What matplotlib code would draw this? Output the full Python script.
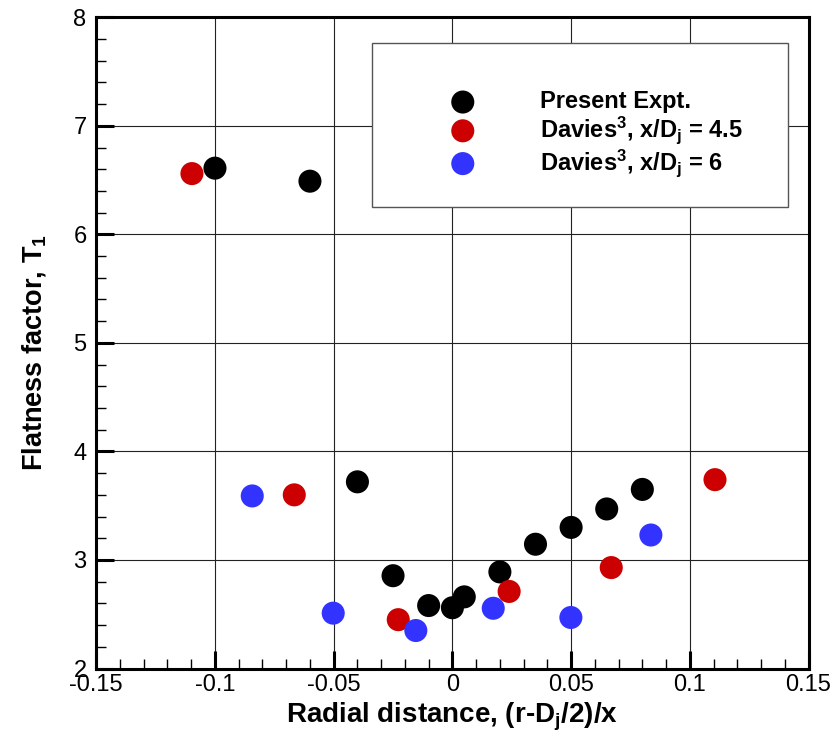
import matplotlib
matplotlib.use("Agg")
import matplotlib.pyplot as plt
from matplotlib.patches import Rectangle
from matplotlib.ticker import MultipleLocator, FixedLocator

plt.rcParams['font.family'] = ['Liberation Sans', 'DejaVu Sans']
plt.rcParams['axes.unicode_minus'] = False
plt.rcParams['mathtext.fontset'] = 'custom'
plt.rcParams['mathtext.rm'] = 'Liberation Sans:bold'
plt.rcParams['mathtext.it'] = 'Liberation Sans:bold'
plt.rcParams['mathtext.bf'] = 'Liberation Sans:bold'
plt.rcParams['mathtext.default'] = 'rm'

# ---- data ----
present_x = [-0.10, -0.06, -0.04, -0.025, -0.01, 0.0, 0.005, 0.02, 0.035, 0.05, 0.065, 0.08]
present_y = [6.61, 6.49, 3.72, 2.855, 2.58, 2.56, 2.66, 2.89, 3.145, 3.30, 3.47, 3.65]

davies45_x = [-0.1097, -0.0666, -0.0228, 0.0239, 0.0669, 0.1106]
davies45_y = [6.56, 3.60, 2.45, 2.71, 2.93, 3.74]

davies6_x = [-0.0843, -0.0502, -0.0154, 0.0172, 0.0499, 0.0836]
davies6_y = [3.59, 2.51, 2.35, 2.555, 2.47, 3.23]

series_labels = ["Present Expt.",
                 r"Davies$^3$, x/$\mathrm{D}_j$ = 4.5",
                 r"Davies$^3$, x/$\mathrm{D}_j$ = 6"]
series_colors = ["#000000", "#cc0000", "#3333ff"]

xticks = [-0.15, -0.1, -0.05, 0, 0.05, 0.1, 0.15]
xtick_labels = ["-0.15", "-0.1", "-0.05", "0", "0.05", "0.1", "0.15"]
yticks = [2, 3, 4, 5, 6, 7, 8]
ytick_labels = ["2", "3", "4", "5", "6", "7", "8"]

# ---- figure ----
fig = plt.figure(figsize=(8.37, 7.36), dpi=100)
ax = fig.add_axes([0.115, 0.0917, 0.851, 0.8848])

ax.set_xlim(-0.15, 0.15)
ax.set_ylim(2, 8)

ms = 16.6 ** 2
handles = []
for xs, ys, c in [(present_x, present_y, series_colors[0]),
                  (davies45_x, davies45_y, series_colors[1]),
                  (davies6_x, davies6_y, series_colors[2])]:
    h = ax.scatter(xs, ys, s=ms, color=c, edgecolors='none', zorder=4, clip_on=False)
    handles.append(h)

ax.xaxis.set_major_locator(FixedLocator(xticks))
ax.set_xticklabels(xtick_labels)
ax.yaxis.set_major_locator(FixedLocator(yticks))
ax.set_yticklabels(ytick_labels)
ax.xaxis.set_minor_locator(MultipleLocator(0.01))
ax.yaxis.set_minor_locator(MultipleLocator(0.2))

ax.tick_params(which='major', direction='in', length=13, width=2.2, labelsize=17,
               top=False, right=False)
ax.tick_params(which='minor', direction='in', length=7, width=1.0, top=False, right=False)
ax.tick_params(axis='x', which='major', pad=4)
ax.tick_params(axis='y', which='major', pad=7)

for sp in ax.spines.values():
    sp.set_linewidth(2.2)
    sp.set_zorder(6)

ax.grid(which='major', color='#222222', linewidth=0.8, zorder=1)
ax.set_axisbelow(True)

ax.set_xlabel(r"Radial distance, (r-$\mathrm{D}_j$/2)/x", fontsize=20, fontweight='bold')
ax.set_ylabel(r"Flatness factor, $\mathrm{T}_1$", fontsize=19.5, fontweight='bold')
ax.xaxis.set_label_coords(0.5, -0.049)
ax.yaxis.set_label_coords(-0.068, 0.485)

# legend box
rect = Rectangle((0.387, 0.7087), 0.584, 0.2518, transform=ax.transAxes,
                 facecolor='white', edgecolor='#555555', linewidth=1.0, zorder=3)
ax.add_patch(rect)

leg = ax.legend(handles, series_labels, loc='upper left', bbox_to_anchor=(0.498, 0.888),
                frameon=False, borderpad=0, borderaxespad=0, handlelength=1.0,
                handletextpad=2.76, labelspacing=0.05, scatterpoints=1,
                prop={'family': 'Liberation Sans', 'weight': 'bold', 'size': 17})
leg.set_zorder(7)

fig.savefig("out.png", dpi=100)
